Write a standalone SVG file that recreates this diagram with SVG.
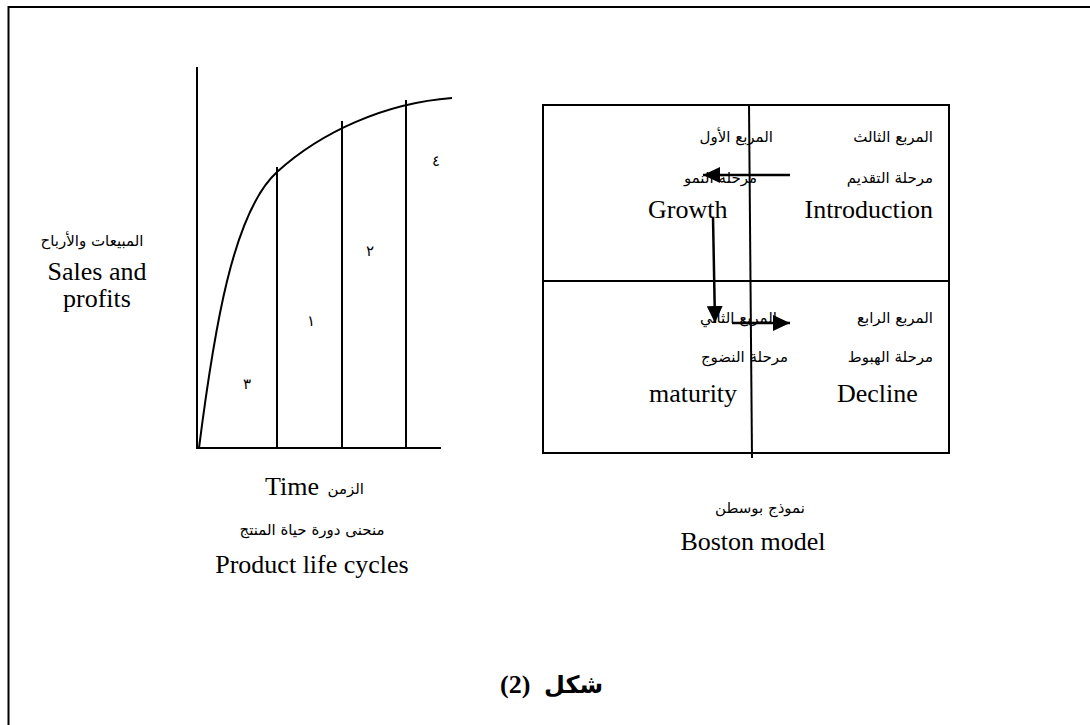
<svg xmlns="http://www.w3.org/2000/svg" width="1090" height="725" viewBox="0 0 1090 725">
<style>
.ln{stroke:#000;stroke-width:2;fill:none}
.ar{stroke:#000;stroke-width:2.5;fill:none}
.en{font-family:"Liberation Serif","Times New Roman",serif;font-size:26px;fill:#000}
.ab{font-family:"DejaVu Sans","Liberation Serif",sans-serif;font-size:15px;fill:#000}
.num{font-family:"DejaVu Sans",sans-serif;font-size:15px;fill:#000}
</style>
<defs>
<marker id="head" markerUnits="userSpaceOnUse" markerWidth="18" markerHeight="16" refX="17" refY="8" orient="auto">
<path d="M0,0 L17,8 L0,16 z" fill="#000"/>
</marker>
</defs>
<rect width="1090" height="725" fill="#fff"/>
<path class="ln" d="M8.5,730 V7 H1095" stroke-width="2.2"/>

<g id="plc-chart">
<path class="ln" d="M197,67 V448 H441"/>
<path class="ln" d="M277,167 V448 M342,121 V448 M406,100 V448"/>
<path class="ln" d="M199,448 C214,330 233,212 277,172 S385,103 452,98"/>
<text class="num" x="247" y="389" text-anchor="middle">٣</text>
<text class="num" x="311" y="326" text-anchor="middle">١</text>
<text class="num" x="370" y="256" text-anchor="middle">٢</text>
<text class="num" x="436" y="166" text-anchor="middle">٤</text>
</g>

<g id="y-label">
<text class="ab" x="92" y="246" text-anchor="middle">المبيعات والأرباح</text>
<text class="en" x="97" y="280" text-anchor="middle">Sales and</text>
<text class="en" x="97" y="307" text-anchor="middle">profits</text>
</g>

<g id="plc-caption">
<text class="en" x="265" y="495">Time</text>
<text class="ab" x="364" y="494" text-anchor="end">الزمن</text>
<text class="ab" x="312" y="535" text-anchor="middle">منحنى دورة حياة المنتج</text>
<text class="en" x="312" y="573" text-anchor="middle">Product life cycles</text>
</g>

<g id="boston-box">
<rect class="ln" x="543" y="105" width="406" height="348"/>
<path class="ln" d="M543,281 H949"/>
<path class="ln" d="M749,104 L752,458"/>
</g>

<g id="q-introduction">
<text class="ab" x="933" y="142" text-anchor="end">المربع الثالث</text>
<text class="ab" x="933" y="183" text-anchor="end">مرحلة التقديم</text>
<text class="en" x="933" y="218" text-anchor="end">Introduction</text>
</g>
<g id="q-growth">
<text class="ab" x="773" y="142" text-anchor="end">المربع الأول</text>
<text class="ab" x="757" y="183" text-anchor="end">مرحلة النمو</text>
<text class="en" x="648" y="218">Growth</text>
</g>
<g id="q-maturity">
<text class="ab" x="777" y="323" text-anchor="end">المربع الثاني</text>
<text class="ab" x="788" y="362" text-anchor="end">مرحلة النضوج</text>
<text class="en" x="649" y="402">maturity</text>
</g>
<g id="q-decline">
<text class="ab" x="933" y="323" text-anchor="end">المربع الرابع</text>
<text class="ab" x="933" y="362" text-anchor="end">مرحلة الهبوط</text>
<text class="en" x="837" y="402">Decline</text>
</g>

<g id="connectors">
<path class="ar" d="M790,175 H703" marker-end="url(#head)"/>
<path class="ar" d="M713,217 L715,323" marker-end="url(#head)"/>
<path class="ar" d="M732,323 H790" marker-end="url(#head)"/>
</g>

<g id="boston-caption">
<text class="ab" x="760" y="513" text-anchor="middle">نموذج بوسطن</text>
<text class="en" x="753" y="550" text-anchor="middle">Boston model</text>
</g>

<g id="figure-title">
<text x="500" y="693" style="font-family:'Liberation Serif',serif;font-size:26px;font-weight:bold">(2)</text>
<text x="603" y="693" text-anchor="end" style="font-family:'DejaVu Sans',sans-serif;font-size:24px;font-weight:bold">شكل</text>
</g>
</svg>
